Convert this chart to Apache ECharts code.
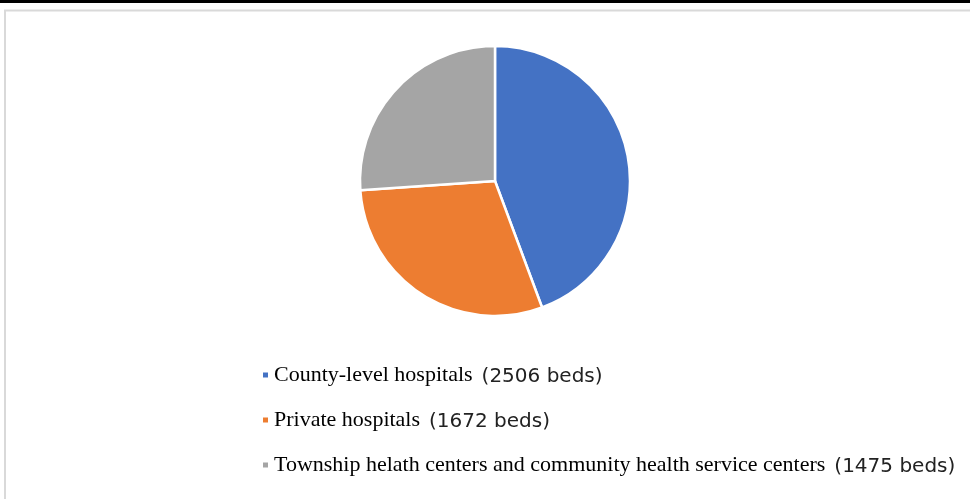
<!DOCTYPE html>
<html>
<head>
<meta charset="utf-8">
<script src="https://cdn.jsdelivr.net/npm/echarts@6/dist/echarts.min.js"></script>
<style>
  html, body { margin: 0; padding: 0; background: #fff; }
  #chart { width: 970px; height: 499px; }
</style>
</head>
<body>
<div id="chart"></div>
<script>
// facility types and bed counts
const categories = [
  'County-level hospitals',
  'Private hospitals',
  'Township helath centers and community health service centers'
];
const beds = [2506, 1672, 1475];
const colors = ['#4472C4', '#ED7D31', '#A5A5A5'];

const pieData = categories.map((name, i) => ({
  name: name,
  value: beds[i],
  itemStyle: { color: colors[i] }
}));

const chart = echarts.init(document.getElementById('chart'));

const option = {
  animation: false,
  backgroundColor: '#fff',
  graphic: [
    // black rule along the top
    { type: 'rect', shape: { x: 0, y: 0, width: 970, height: 3 }, style: { fill: '#000' } },
    // light frame around the chart area
    {
      type: 'rect',
      shape: { x: 5, y: 10.5, width: 980, height: 500 },
      style: { fill: 'none', stroke: '#d9d9d9', lineWidth: 2 }
    }
  ],
  legend: {
    orient: 'vertical',
    left: 256,
    top: 358,
    icon: 'rect',
    itemWidth: 7,
    itemHeight: 7,
    itemGap: 21,
    data: categories,
    formatter: (name) => {
      const i = categories.indexOf(name);
      return `{n|${name}}{g|}{v|(${beds[i]} beds)}`;
    },
    textStyle: {
      rich: {
        n: { fontFamily: 'Liberation Serif', fontSize: 22, color: '#000', lineHeight: 24 },
        g: { width: 9, lineHeight: 24 },
        v: { fontFamily: 'DejaVu Sans', fontSize: 20, color: '#222', lineHeight: 24, padding: [4, 0, 0, 0] }
      }
    }
  },
  series: [
    {
      type: 'pie',
      center: [495, 181],
      radius: 135,
      startAngle: 90,
      clockwise: true,
      label: { show: false },
      labelLine: { show: false },
      itemStyle: { borderColor: '#fff', borderWidth: 2.5 },
      emphasis: { disabled: true },
      data: pieData
    }
  ]
};

chart.setOption(option);
</script>
</body>
</html>
